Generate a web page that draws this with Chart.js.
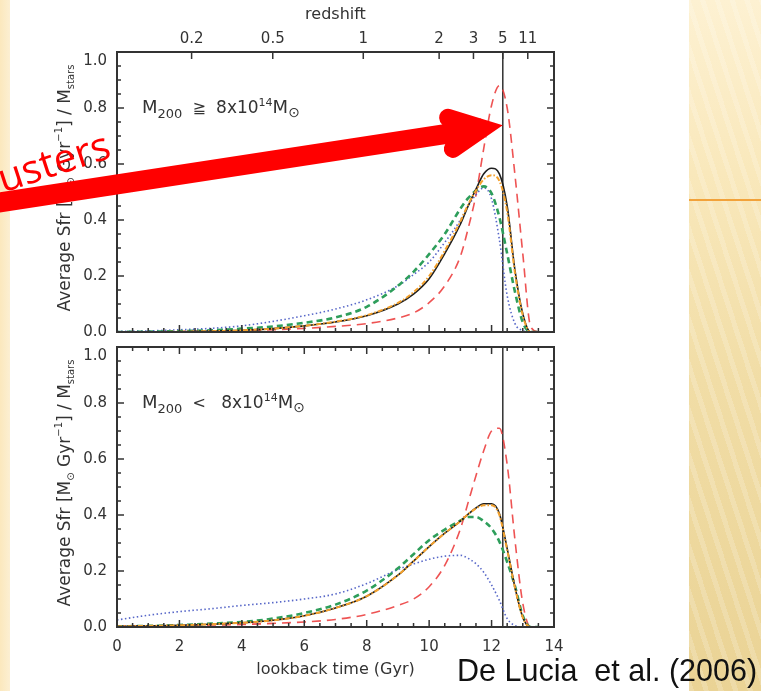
<!DOCTYPE html>
<html>
<head>
<meta charset="utf-8">
<script src="https://cdn.jsdelivr.net/npm/chart.js@4.4.1/dist/chart.umd.min.js"></script>
<style>
  html, body { margin: 0; padding: 0; }
  body { width: 761px; height: 691px; position: relative; overflow: hidden; background: #fff; }
  .strip { position: absolute; top: 0; height: 691px; }
  #leftStrip { left: 0; width: 10px; background: linear-gradient(90deg, #fbe8bd, #fcefd2); }
  #rightStrip { left: 689px; width: 72px;
    background:
      repeating-linear-gradient(72deg, rgba(255,255,255,0.18) 0 5px, rgba(255,255,255,0) 5px 14px),
      linear-gradient(180deg, #fdf1d2 0%, #f9e8bb 25%, #f1dda6 55%, #ead395 100%); }
  .rule { position: absolute; top: 199px; height: 2px; background: #f2a23a; }
  canvas { position: absolute; left: 0; }
  .plot { filter: blur(0.4px); }
  #cite { position: absolute; left: 457px; top: 653px; font: 30.5px "Liberation Sans", sans-serif;
          color: #111; white-space: pre; line-height: 34px; }
</style>
</head>
<body>
<div id="leftStrip" class="strip"></div>
<div id="rightStrip" class="strip"></div>
<div class="rule" style="left:0;width:10px"></div>
<div class="rule" style="left:689px;width:72px"></div>
<canvas id="sfrHigh" class="plot" width="761" height="340" style="top:0"></canvas>
<canvas id="sfrLow" class="plot" width="761" height="351" style="top:340px"></canvas>
<canvas id="overlay" width="761" height="340" style="top:0"></canvas>
<div id="cite">De Lucia  et al. (2006)</div>
<script>
// lookback time grid (Gyr) shared by all curves
const lookback = [0, 1, 2, 3, 4, 5, 6, 7, 8, 9, 9.5, 10, 10.5, 11, 11.25, 11.5, 11.75, 12, 12.25, 12.5, 12.75, 13, 13.25, 13.5];

// M200 >= 8e14 Msun
const hiBlack  = [0, 0, 0.001, 0.003, 0.006, 0.012, 0.022, 0.036, 0.058, 0.10, 0.135, 0.19, 0.28, 0.385, 0.45, 0.51, 0.565, 0.585, 0.565, 0.45, 0.22, 0.065, 0, 0];
const hiOrange = [0, 0, 0.001, 0.003, 0.006, 0.012, 0.022, 0.037, 0.06, 0.104, 0.142, 0.2, 0.29, 0.395, 0.455, 0.505, 0.545, 0.56, 0.54, 0.43, 0.21, 0.06, 0, 0];
const hiGreen  = [0, 0.001, 0.003, 0.006, 0.012, 0.02, 0.033, 0.052, 0.09, 0.165, 0.215, 0.278, 0.35, 0.44, 0.478, 0.505, 0.52, 0.495, 0.41, 0.28, 0.143, 0.035, 0, 0];
const hiBlue   = [0.002, 0.004, 0.008, 0.013, 0.022, 0.038, 0.058, 0.082, 0.115, 0.165, 0.205, 0.25, 0.32, 0.4, 0.45, 0.49, 0.515, 0.475, 0.33, 0.13, 0.03, 0.005, 0, 0];
const hiRed    = [0.001, 0.001, 0.002, 0.003, 0.005, 0.008, 0.013, 0.02, 0.03, 0.05, 0.068, 0.105, 0.165, 0.27, 0.37, 0.49, 0.656, 0.81, 0.88, 0.80, 0.56, 0.28, 0.02, 0];

// M200 < 8e14 Msun
const loBlack  = [0.002, 0.004, 0.006, 0.01, 0.015, 0.024, 0.04, 0.068, 0.11, 0.185, 0.235, 0.287, 0.335, 0.378, 0.403, 0.425, 0.44, 0.44, 0.405, 0.28, 0.142, 0.035, 0, 0];
const loOrange = [0.002, 0.004, 0.006, 0.01, 0.015, 0.024, 0.04, 0.068, 0.11, 0.185, 0.235, 0.287, 0.335, 0.378, 0.403, 0.423, 0.435, 0.435, 0.4, 0.275, 0.14, 0.034, 0, 0];
const loGreen  = [0.002, 0.004, 0.007, 0.012, 0.018, 0.03, 0.05, 0.08, 0.13, 0.21, 0.26, 0.31, 0.348, 0.38, 0.393, 0.393, 0.378, 0.352, 0.305, 0.232, 0.146, 0.04, 0, 0];
const loBlue   = [0.025, 0.042, 0.055, 0.065, 0.077, 0.087, 0.1, 0.118, 0.155, 0.205, 0.225, 0.242, 0.253, 0.256, 0.245, 0.226, 0.195, 0.15, 0.095, 0.03, 0.005, 0, 0, 0];
const loRed    = [0.003, 0.004, 0.005, 0.007, 0.009, 0.013, 0.018, 0.027, 0.045, 0.077, 0.1, 0.144, 0.22, 0.35, 0.445, 0.54, 0.63, 0.70, 0.71, 0.58, 0.31, 0.085, 0, 0];

// redshift ticks on the upper axis, placed at their lookback time
const zLabels   = ['0.2', '0.5', '1', '2', '3', '5', '11'];
const zLookback = [2.39, 4.99, 7.89, 10.32, 11.42, 12.36, 13.16];

const INK = '#333';
const FONT = '"DejaVu Sans", sans-serif';

const lineStyles = {
  orange: { borderColor: '#f4a12c', borderWidth: 2, borderDash: [5, 2, 1.5, 2] },
  black:  { borderColor: '#1e1e1e', borderWidth: 1.6, borderDash: [] },
  green:  { borderColor: '#2e9e5b', borderWidth: 2.6, borderDash: [6, 4] },
  blue:   { borderColor: '#5767c8', borderWidth: 1.6, borderDash: [1.5, 2.5] },
  red:    { borderColor: 'rgba(236, 64, 64, 0.9)', borderWidth: 1.6, borderDash: [9, 6] }
};

const yTitleParts = [
  ['Average Sfr [M', 17], ['\u2299', 10, 4], [' Gyr', 17], ['\u22121', 10, -8], ['] / M', 17], ['stars', 10, 4]
];
const hiLabel = [['M', 18], ['200', 13, 5], ['  \u2267  ', 16], ['8x10', 17], ['14', 11, -7], ['M', 18], ['\u2299', 14, 4]];
const loLabel = [['M', 18], ['200', 13, 5], ['  <   ', 16], ['8x10', 17], ['14', 11, -7], ['M', 18], ['\u2299', 14, 4]];

function richWidth(ctx, parts) {
  let w = 0;
  parts.forEach(p => { ctx.font = p[1] + 'px ' + FONT; w += ctx.measureText(p[0]).width; });
  return w;
}

function drawRich(ctx, x, y, parts) {
  let cx = x;
  parts.forEach(p => {
    ctx.font = p[1] + 'px ' + FONT;
    ctx.fillText(p[0], cx, y + (p[2] || 0));
    cx += ctx.measureText(p[0]).width;
  });
}

// box frame with IDL-style inward ticks
const frameTicks = {
  id: 'frameTicks',
  afterDatasetsDraw(chart, args, opts) {
    const { ctx, chartArea: a, scales } = chart;
    const xs = scales.x, ys = scales.y;
    ctx.save();
    ctx.strokeStyle = INK;
    ctx.lineWidth = 1.5;
    ctx.beginPath();
    for (let i = 0; i <= 20; i++) {
      const py = ys.getPixelForValue(i * 0.05);
      const len = i % 4 === 0 ? 7 : 4;
      ctx.moveTo(a.left, py); ctx.lineTo(a.left + len, py);
      ctx.moveTo(a.right, py); ctx.lineTo(a.right - len, py);
    }
    for (let i = 0; i <= 28; i++) {
      const px = xs.getPixelForValue(i * 0.5);
      const len = i % 4 === 0 ? 7 : 4;
      ctx.moveTo(px, a.bottom); ctx.lineTo(px, a.bottom - len);
      if (!opts.redshiftTop) { ctx.moveTo(px, a.top); ctx.lineTo(px, a.top + len); }
    }
    if (opts.redshiftTop) {
      zLookback.forEach(t => {
        const px = scales.xz.getPixelForValue(t);
        ctx.moveTo(px, a.top); ctx.lineTo(px, a.top + 7);
      });
    }
    ctx.stroke();
    ctx.lineWidth = 2;
    ctx.strokeRect(a.left, a.top, a.right - a.left, a.bottom - a.top);
    ctx.restore();
  }
};

const panelText = {
  id: 'panelText',
  afterDraw(chart, args, opts) {
    const { ctx, chartArea: a } = chart;
    ctx.save();
    ctx.fillStyle = INK;
    ctx.textBaseline = 'alphabetic';
    ctx.save();
    ctx.translate(70, (a.top + a.bottom) / 2 - 4);
    ctx.rotate(-Math.PI / 2);
    drawRich(ctx, -richWidth(ctx, yTitleParts) / 2, 0, yTitleParts);
    ctx.restore();
    drawRich(ctx, a.left + 25, a.top + 61, opts.label);
    ctx.restore();
  }
};

function buildDatasets(series) {
  const sets = Object.keys(lineStyles).map(k => Object.assign({
    label: k,
    data: lookback.map((t, i) => ({ x: t, y: series[k][i] })),
    cubicInterpolationMode: 'monotone'
  }, lineStyles[k]));
  // z = 5 marker
  sets.push({
    label: 'z5',
    data: [{ x: zLookback[5], y: 0 }, { x: zLookback[5], y: 1 }],
    borderColor: '#222', borderWidth: 1.4, tension: 0
  });
  return sets;
}

const yAxis = {
  min: 0, max: 1,
  ticks: {
    stepSize: 0.2, padding: 10, color: INK, font: { family: FONT, size: 15 },
    callback: v => v === 1 ? ['', '1.0'] : v.toFixed(1)
  },
  grid: { display: false, drawTicks: false },
  border: { display: false },
  afterFit: s => { s.width = 117; s.paddingTop = 0; s.paddingBottom = 0; }
};

const common = {
  responsive: false,
  animation: false,
  devicePixelRatio: 1,
  elements: { point: { radius: 0 } }
};

new Chart(document.getElementById('sfrHigh'), {
  type: 'line',
  data: { datasets: buildDatasets({ black: hiBlack, orange: hiOrange, green: hiGreen, blue: hiBlue, red: hiRed }) },
  options: Object.assign({}, common, {
    layout: { padding: { left: 0, top: 0, right: 207, bottom: 8 } },
    plugins: {
      legend: { display: false }, tooltip: { enabled: false },
      frameTicks: { redshiftTop: true },
      panelText: { label: hiLabel }
    },
    scales: {
      x: { type: 'linear', min: 0, max: 14, display: false },
      xz: {
        type: 'linear', position: 'top', min: 0, max: 14,
        afterBuildTicks: s => { s.ticks = zLookback.map(v => ({ value: v })); },
        ticks: { callback: (v, i) => zLabels[i], padding: 4, color: INK, font: { family: FONT, size: 15 }, maxRotation: 0, autoSkip: false },
        grid: { display: false, drawTicks: false },
        border: { display: false },
        title: { display: true, text: 'redshift', color: INK, font: { family: FONT, size: 16 }, padding: { top: 5, bottom: 0 } },
        afterFit: s => { s.height = 52; s.paddingLeft = 0; s.paddingRight = 0; }
      },
      y: yAxis
    }
  }),
  plugins: [frameTicks, panelText]
});

new Chart(document.getElementById('sfrLow'), {
  type: 'line',
  data: { datasets: buildDatasets({ black: loBlack, orange: loOrange, green: loGreen, blue: loBlue, red: loRed }) },
  options: Object.assign({}, common, {
    layout: { padding: { left: 0, top: 7, right: 207, bottom: 0 } },
    plugins: {
      legend: { display: false }, tooltip: { enabled: false },
      frameTicks: { redshiftTop: false },
      panelText: { label: loLabel }
    },
    scales: {
      x: {
        type: 'linear', position: 'bottom', min: 0, max: 14,
        ticks: { stepSize: 2, padding: 11, color: INK, font: { family: FONT, size: 15 }, maxRotation: 0 },
        grid: { display: false, drawTicks: false },
        border: { display: false },
        title: { display: true, text: 'lookback time (Gyr)', color: INK, font: { family: FONT, size: 16 }, padding: { top: 0, bottom: 12 } },
        afterFit: s => { s.height = 64; s.paddingLeft = 0; s.paddingRight = 0; }
      },
      y: yAxis
    }
  }),
  plugins: [frameTicks, panelText]
});

// red arrow and caption laid over the top panel
const ov = document.getElementById('overlay').getContext('2d');
(function drawArrow(ctx) {
  const tail = { x: -30, y: 207 }, tip = { x: 505, y: 125 };
  const ang = Math.atan2(tip.y - tail.y, tip.x - tail.x);
  const w = 20, half = 26 * Math.PI / 180, arm = 36;
  const back = w / 2 / Math.sin(half);
  const vx = tip.x - Math.cos(ang) * back, vy = tip.y - Math.sin(ang) * back;
  ctx.strokeStyle = '#ff0000';
  ctx.lineWidth = w;
  ctx.lineCap = 'butt';
  ctx.beginPath(); ctx.moveTo(tail.x, tail.y); ctx.lineTo(vx, vy); ctx.stroke();
  ctx.lineWidth = 18;
  ctx.lineCap = 'round'; ctx.lineJoin = 'miter'; ctx.miterLimit = 10;
  ctx.beginPath();
  ctx.moveTo(vx - arm * Math.cos(ang - half), vy - arm * Math.sin(ang - half));
  ctx.lineTo(vx, vy);
  ctx.lineTo(vx - arm * Math.cos(ang + half), vy - arm * Math.sin(ang + half));
  ctx.stroke();

  ctx.save();
  ctx.translate(113, 157);
  ctx.rotate(-18 * Math.PI / 180);
  ctx.fillStyle = '#ff0000';
  ctx.font = '40px "Open Sans", sans-serif';
  ctx.textAlign = 'right';
  ctx.fillText('clusters', 0, 0);
  ctx.restore();
})(ov);
</script>
</body>
</html>
